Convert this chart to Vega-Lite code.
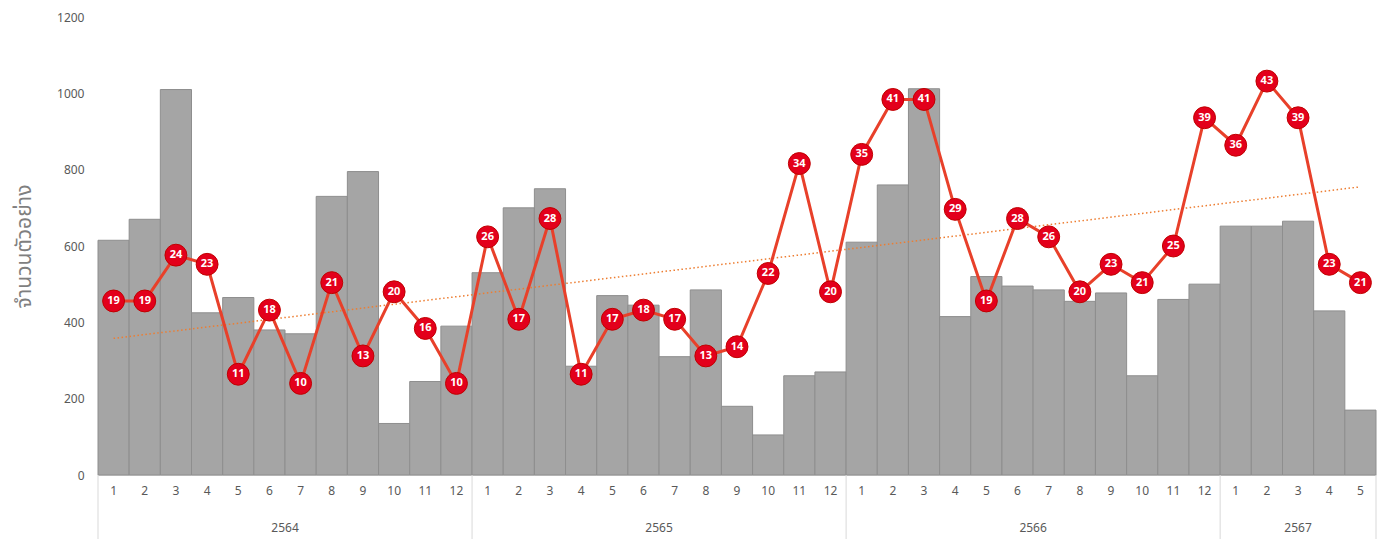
{
  "$schema": "https://vega.github.io/schema/vega-lite/v6.json",
  "width": 1278,
  "height": 458,
  "autosize": "none",
  "padding": {"left": 98, "top": 17, "right": 5, "bottom": 64},
  "background": "white",
  "config": {
    "view": {"stroke": null},
    "font": "Noto Sans, Noto Sans Thai, sans-serif"
  },
  "datasets": {
    "monthly": [
      {"key": "2564-01", "samples": 615, "pct": 19},
      {"key": "2564-02", "samples": 670, "pct": 19},
      {"key": "2564-03", "samples": 1010, "pct": 24},
      {"key": "2564-04", "samples": 425, "pct": 23},
      {"key": "2564-05", "samples": 465, "pct": 11},
      {"key": "2564-06", "samples": 380, "pct": 18},
      {"key": "2564-07", "samples": 370, "pct": 10},
      {"key": "2564-08", "samples": 730, "pct": 21},
      {"key": "2564-09", "samples": 795, "pct": 13},
      {"key": "2564-10", "samples": 135, "pct": 20},
      {"key": "2564-11", "samples": 245, "pct": 16},
      {"key": "2564-12", "samples": 390, "pct": 10},
      {"key": "2565-01", "samples": 530, "pct": 26},
      {"key": "2565-02", "samples": 700, "pct": 17},
      {"key": "2565-03", "samples": 750, "pct": 28},
      {"key": "2565-04", "samples": 285, "pct": 11},
      {"key": "2565-05", "samples": 470, "pct": 17},
      {"key": "2565-06", "samples": 445, "pct": 18},
      {"key": "2565-07", "samples": 310, "pct": 17},
      {"key": "2565-08", "samples": 485, "pct": 13},
      {"key": "2565-09", "samples": 180, "pct": 14},
      {"key": "2565-10", "samples": 105, "pct": 22},
      {"key": "2565-11", "samples": 260, "pct": 34},
      {"key": "2565-12", "samples": 270, "pct": 20},
      {"key": "2566-01", "samples": 610, "pct": 35},
      {"key": "2566-02", "samples": 760, "pct": 41},
      {"key": "2566-03", "samples": 1012, "pct": 41},
      {"key": "2566-04", "samples": 415, "pct": 29},
      {"key": "2566-05", "samples": 520, "pct": 19},
      {"key": "2566-06", "samples": 495, "pct": 28},
      {"key": "2566-07", "samples": 485, "pct": 26},
      {"key": "2566-08", "samples": 455, "pct": 20},
      {"key": "2566-09", "samples": 477, "pct": 23},
      {"key": "2566-10", "samples": 260, "pct": 21},
      {"key": "2566-11", "samples": 460, "pct": 25},
      {"key": "2566-12", "samples": 500, "pct": 39},
      {"key": "2567-01", "samples": 652, "pct": 36},
      {"key": "2567-02", "samples": 652, "pct": 43},
      {"key": "2567-03", "samples": 665, "pct": 39},
      {"key": "2567-04", "samples": 430, "pct": 23},
      {"key": "2567-05", "samples": 170, "pct": 21}
    ],
    "trend": [
      {"key": "2564-01", "value": 358},
      {"key": "2567-05", "value": 755}
    ],
    "yearsEven": [
      {"key": "2564-07", "year": "2564"},
      {"key": "2565-07", "year": "2565"},
      {"key": "2566-07", "year": "2566"}
    ],
    "yearsOdd": [
      {"key": "2567-03", "year": "2567"}
    ],
    "sepLeft": [
      {"key": "2564-01"},
      {"key": "2565-01"},
      {"key": "2566-01"},
      {"key": "2567-01"}
    ],
    "sepRight": [
      {"key": "2567-05"}
    ]
  },
  "resolve": {"scale": {"y": "independent"}},
  "layer": [
    {
      "layer": [
        {
          "data": {"name": "monthly"},
          "mark": {"type": "bar", "color": "#A5A5A5", "stroke": "#8E8E8E", "strokeWidth": 1},
          "encoding": {
            "x": {
              "field": "key", "type": "ordinal",
              "scale": {"paddingInner": 0, "paddingOuter": 0},
              "axis": {
                "title": null,
                "labelExpr": "toNumber(split(datum.value, '-')[1])",
                "labelAngle": 0,
                "labelFontSize": 12,
                "labelColor": "#595959",
                "labelPadding": 10,
                "ticks": false,
                "domainColor": "#D9D9D9",
                "domainWidth": 1
              }
            },
            "y": {
              "field": "samples", "type": "quantitative",
              "scale": {"domain": [0, 1200], "nice": false},
              "axis": {
                "title": "จำนวนตัวอย่าง",
                "titleFontSize": 21,
                "titleColor": "#7F7F7F",
                "titleFontWeight": "normal",
                "titlePadding": 22,
                "values": [0, 200, 400, 600, 800, 1000, 1200],
                "format": "d",
                "labelFontSize": 12,
                "labelColor": "#595959",
                "labelPadding": 14,
                "ticks": false,
                "domain": false,
                "grid": false
              }
            }
          }
        },
        {
          "data": {"name": "sepLeft"},
          "mark": {"type": "rule", "color": "#D9D9D9", "strokeWidth": 1},
          "encoding": {
            "x": {"field": "key", "type": "ordinal", "bandPosition": 0},
            "y": {"datum": 0, "type": "quantitative"},
            "y2": {"datum": -170}
          }
        },
        {
          "data": {"name": "sepRight"},
          "mark": {"type": "rule", "color": "#D9D9D9", "strokeWidth": 1},
          "encoding": {
            "x": {"field": "key", "type": "ordinal", "bandPosition": 1},
            "y": {"datum": 0, "type": "quantitative"},
            "y2": {"datum": -170}
          }
        },
        {
          "data": {"name": "yearsEven"},
          "mark": {"type": "text", "fontSize": 12, "color": "#595959", "baseline": "middle", "align": "center"},
          "encoding": {
            "x": {"field": "key", "type": "ordinal", "bandPosition": 0},
            "y": {"datum": -140, "type": "quantitative"},
            "text": {"field": "year"}
          }
        },
        {
          "data": {"name": "yearsOdd"},
          "mark": {"type": "text", "fontSize": 12, "color": "#595959", "baseline": "middle", "align": "center"},
          "encoding": {
            "x": {"field": "key", "type": "ordinal", "bandPosition": 0.5},
            "y": {"datum": -140, "type": "quantitative"},
            "text": {"field": "year"}
          }
        },
        {
          "data": {"name": "trend"},
          "mark": {"type": "line", "color": "#ED7D31", "strokeWidth": 1.5, "strokeDash": [1.5, 2.5]},
          "encoding": {
            "x": {"field": "key", "type": "ordinal"},
            "y": {"field": "value", "type": "quantitative"}
          }
        }
      ]
    },
    {
      "data": {"name": "monthly"},
      "encoding": {
        "x": {"field": "key", "type": "ordinal"},
        "y": {
          "field": "pct", "type": "quantitative",
          "scale": {"domain": [0, 50], "nice": false},
          "axis": null
        }
      },
      "layer": [
        {"mark": {"type": "line", "color": "#E8402A", "strokeWidth": 3}},
        {"mark": {"type": "point", "shape": "circle", "filled": true, "size": 480, "color": "#E3001B", "stroke": "#C00000", "strokeWidth": 1, "opacity": 1}},
        {
          "mark": {"type": "text", "color": "white", "fontSize": 11, "fontWeight": "bold", "baseline": "middle", "align": "center"},
          "encoding": {"text": {"field": "pct", "type": "quantitative"}}
        }
      ]
    }
  ]
}
